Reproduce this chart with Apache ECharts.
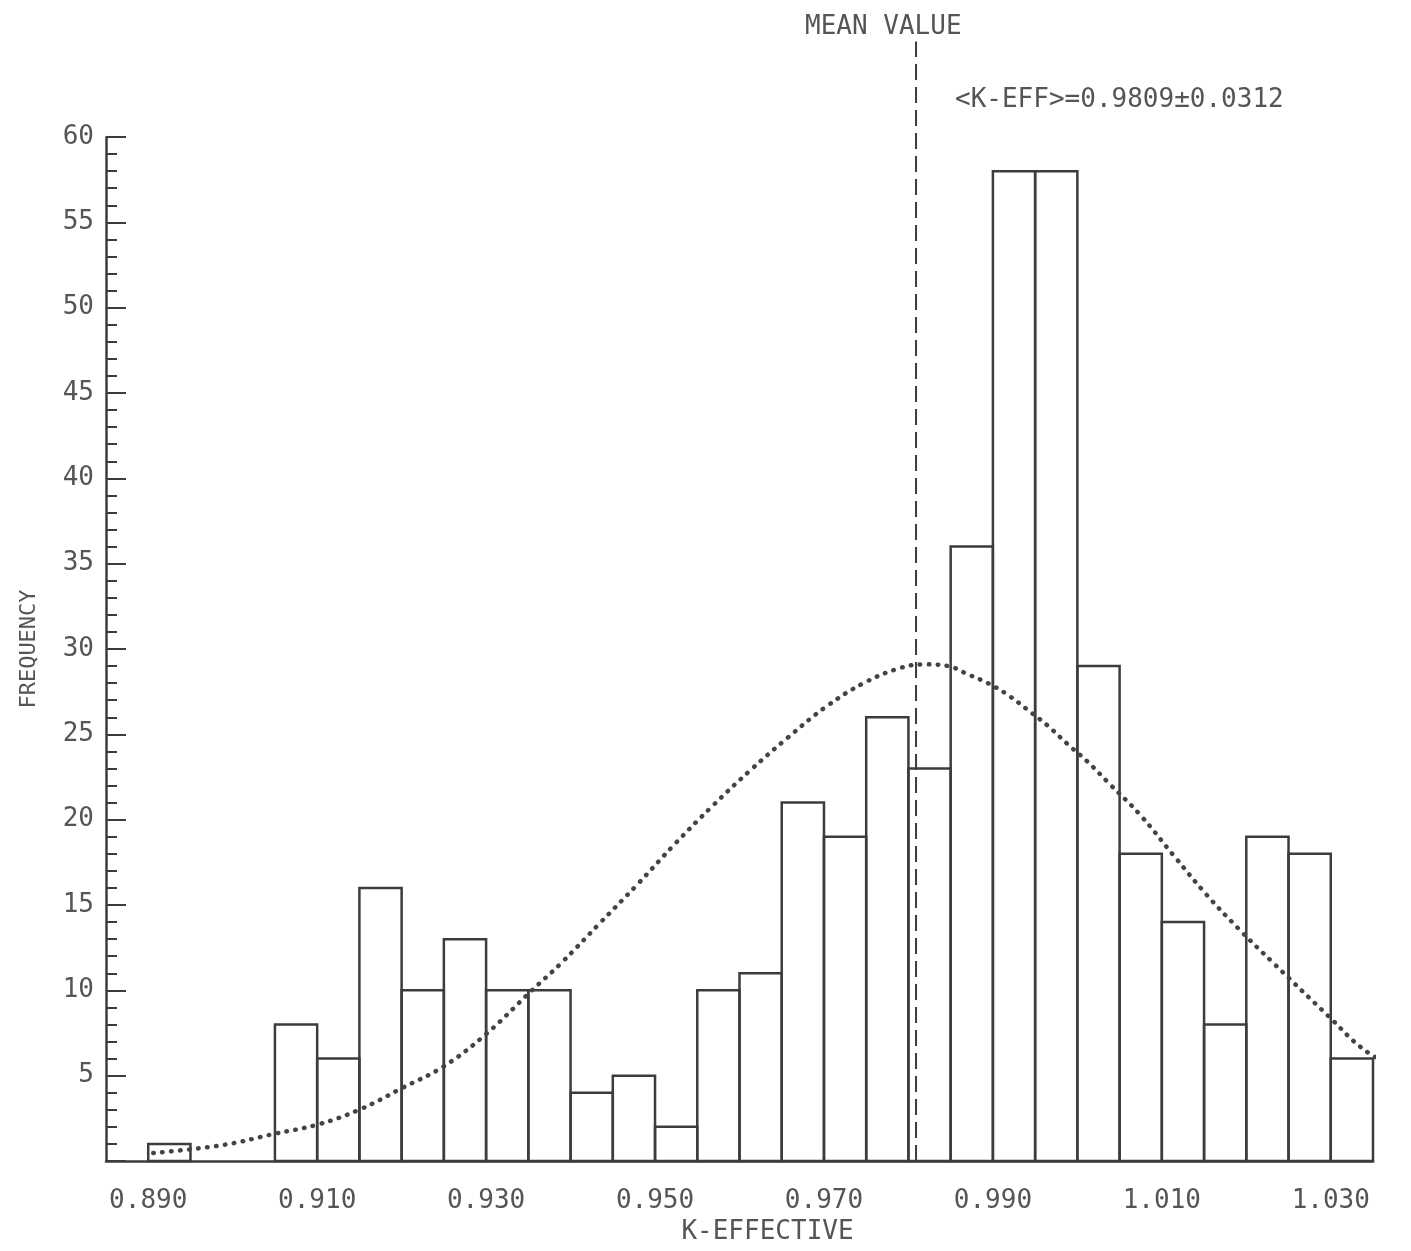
<!DOCTYPE html>
<html>
<head>
<meta charset="utf-8">
<script src="https://cdn.jsdelivr.net/npm/echarts/dist/echarts.min.js"></script>
<style>
html,body{margin:0;padding:0;background:#ffffff;}
#chart{width:1411px;height:1251px;}
</style>
</head>
<body>
<div id="chart"></div>
<script>
// ---- data ----
const BIN_LEFT = [0.890,0.895,0.900,0.905,0.910,0.915,0.920,0.925,0.930,0.935,
                  0.940,0.945,0.950,0.955,0.960,0.965,0.970,0.975,0.980,0.985,
                  0.990,0.995,1.000,1.005,1.010,1.015,1.020,1.025,1.030];
const FREQUENCY = [1,0,0,8,6,16,10,13,10,10,
                   4,5,2,10,11,21,19,26,23,36,
                   58,58,29,18,14,8,19,18,6];
const BIN_WIDTH = 0.005;

const CURVE_K = [0.8906,0.8989,0.9050,0.9101,0.9151,0.9200,0.9250,0.9301,0.9353,0.9389,
                 0.9434,0.9479,0.9524,0.9568,0.9613,0.9657,0.9702,0.9747,0.9791,0.9820,
                 0.9847,0.9871,0.9894,0.9918,0.9942,0.9965,0.9989,1.0012,1.0036,1.0074,
                 1.0114,1.0153,1.0191,1.0232,1.0297,1.0340,1.0384];
const CURVE_FREQ = [0.47,0.94,1.6,2.14,3.03,4.26,5.55,7.48,9.94,11.6,
                    13.9,16.2,18.6,20.8,22.9,24.8,26.6,28.0,28.9,29.1,
                    29.0,28.5,28.0,27.3,26.4,25.5,24.4,23.4,22.2,20.3,
                    17.9,15.6,13.6,11.6,8.5,6.5,5.3];

const MEAN_K = 0.9809;
const X_TICK_LABELS = ['0.890','0.910','0.930','0.950','0.970','0.990','1.010','1.030'];
const MEAN_TEXT = 'MEAN VALUE';
const STAT_TEXT = '<K-EFF>=0.9809\u00B10.0312';
const X_NAME = 'K-EFFECTIVE';
const Y_NAME = 'FREQUENCY';

// ---- chart ----
const INK = '#3c3c3c';
const TXT = '#555555';
const MONO = '"DejaVu Sans Mono","Liberation Mono",monospace';

const chart = echarts.init(document.getElementById('chart'), null, {renderer:'canvas'});

const histData = BIN_LEFT.map((b, i) => [b, +(b + BIN_WIDTH).toFixed(4), FREQUENCY[i]]);
const curveData = CURVE_K.map((k, i) => [k, CURVE_FREQ[i]]);

chart.setOption({
  animation: false,
  backgroundColor: '#ffffff',
  grid: {left: 106, right: 38, top: 137, bottom: 90, containLabel: false},
  xAxis: {
    type: 'value',
    min: 0.885, max: 1.035, interval: 0.005,
    name: X_NAME, nameLocation: 'middle', nameGap: 54,
    nameTextStyle: {fontFamily: MONO, fontSize: 26, color: TXT, padding: [0,0,0,56]},
    axisLine: {show: true, onZero: false, lineStyle: {color: INK, width: 2.5}},
    axisTick: {show: false},
    splitLine: {show: false},
    axisLabel: {
      margin: 27, fontFamily: MONO, fontSize: 26, color: TXT,
      showMinLabel: true, showMaxLabel: true, hideOverlap: false,
      formatter: function (v) {
        const s = v.toFixed(3);
        return X_TICK_LABELS.indexOf(s) >= 0 ? s : '';
      }
    }
  },
  yAxis: {
    type: 'value',
    min: 0, max: 60, interval: 5,
    name: Y_NAME, nameLocation: 'middle', nameRotate: 90, nameGap: 66,
    nameTextStyle: {fontFamily: MONO, fontSize: 22, color: TXT},
    axisLine: {show: true, lineStyle: {color: INK, width: 2.5}},
    axisTick: {show: true, inside: true, length: 20, lineStyle: {color: INK, width: 2}},
    minorTick: {show: true, splitNumber: 5, length: 11, lineStyle: {color: INK, width: 2}},
    splitLine: {show: false},
    minorSplitLine: {show: false},
    axisLabel: {
      margin: 12, fontFamily: MONO, fontSize: 26, color: TXT,
      formatter: function (v) { return v === 0 ? '' : String(v); }
    }
  },
  series: [
    {
      type: 'custom',
      name: 'histogram',
      data: histData,
      encode: {x: [0, 1], y: 2},
      clip: false,
      renderItem: function (params, api) {
        const x0 = api.value(0), x1 = api.value(1), f = api.value(2);
        if (!f) return null;
        const p0 = api.coord([x0, f]);
        const p1 = api.coord([x1, 0]);
        return {
          type: 'rect',
          shape: {x: p0[0], y: p0[1], width: p1[0] - p0[0], height: p1[1] - p0[1]},
          style: {fill: 'none', stroke: INK, lineWidth: 2.5}
        };
      },
      z: 2
    },
    {
      type: 'line',
      name: 'fit',
      data: curveData,
      smooth: 0.4,
      showSymbol: false,
      clip: false,
      lineStyle: {color: '#444444', width: 4.5, type: [0.5, 8.5], cap: 'round'},
      z: 3
    },
    {
      type: 'line',
      name: 'mean',
      data: [[MEAN_K, 0], [MEAN_K, 65.6]],
      showSymbol: false,
      clip: false,
      lineStyle: {color: INK, width: 2, type: [16, 7]},
      z: 4
    }
  ],
  graphic: [
    {type: 'text', left: 805, top: 14, z: 10,
     style: {text: MEAN_TEXT, font: '26px ' + MONO, fill: TXT}},
    {type: 'text', left: 955, top: 87, z: 10,
     style: {text: STAT_TEXT, font: '26px ' + MONO, fill: TXT}}
  ]
});
</script>
</body>
</html>
